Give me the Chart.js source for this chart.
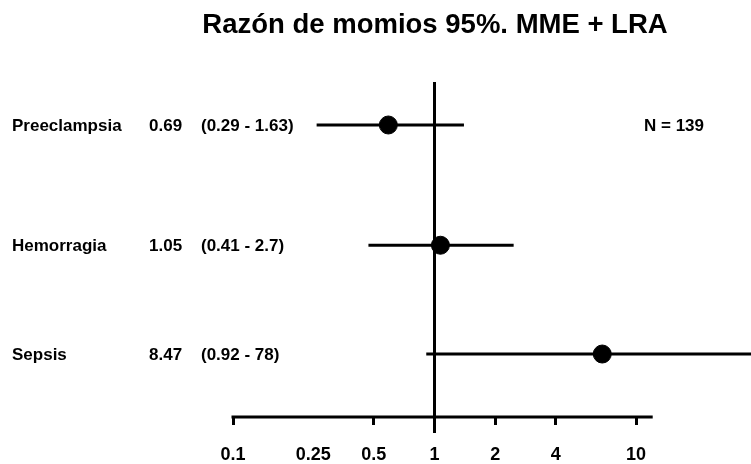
<!DOCTYPE html>
<html>
<head>
<meta charset="utf-8">
<script src="https://cdn.jsdelivr.net/npm/chart.js@4/dist/chart.umd.min.js"></script>
<style>
  html, body { margin: 0; padding: 0; background: #fff; }
  #wrap { width: 751px; height: 464px; position: relative; }
</style>
</head>
<body>
<div id="wrap"><canvas id="forest"></canvas></div>
<script>
'use strict';

// rows, top to bottom
const rowNames = ['Preeclampsia', 'Hemorragia', 'Sepsis'];
const orLabels = ['0.69', '1.05', '8.47'];
const ciLabels = ['(0.29 - 1.63)', '(0.41 - 2.7)', '(0.92 - 78)'];
const rowPos = [1, 2.05, 3];

// marks as they sit on the axis in the picture
const pointEst = [0.59, 1.07, 6.8];
const ciLow = [0.26, 0.47, 0.91];
const ciHigh = [1.40, 2.47, 78];

const tickVals = [0.1, 0.25, 0.5, 1, 2, 4, 10];
const tickLabels = ['0.1', '0.25', '0.5', '1', '2', '4', '10'];
const axisEnd = 12.1;

const FONT = '"Liberation Sans", Arial, Helvetica, sans-serif';

// text columns, title, the null line and the short axis line
const forestDecor = {
  id: 'forestDecor',
  afterDatasetsDraw(chart) {
    const { ctx, chartArea, scales: { x, y } } = chart;
    ctx.save();
    ctx.strokeStyle = '#000';
    ctx.lineWidth = 3;
    ctx.lineCap = 'butt';

    // reference line at OR = 1
    const x1 = Math.round(x.getPixelForValue(1)) - 0.5;
    ctx.beginPath();
    ctx.moveTo(x1, chartArea.top);
    ctx.lineTo(x1, chartArea.bottom + 16);
    ctx.stroke();

    // axis line, 0.1 .. ~12
    ctx.beginPath();
    ctx.moveTo(x.getPixelForValue(0.1) - 1.5, chartArea.bottom);
    ctx.lineTo(x.getPixelForValue(axisEnd), chartArea.bottom);
    ctx.stroke();

    ctx.fillStyle = '#000';
    ctx.textBaseline = 'middle';
    ctx.textAlign = 'left';
    ctx.font = 'bold 17px ' + FONT;
    rowNames.forEach((name, i) => {
      const py = y.getPixelForValue(rowPos[i]) + 1;
      ctx.fillText(name, 12, py);
      ctx.fillText(orLabels[i], 149, py);
      ctx.fillText(ciLabels[i], 201, py);
    });
    ctx.fillText('N = 139', 644, y.getPixelForValue(rowPos[0]) + 1);

    ctx.textAlign = 'center';
    ctx.textBaseline = 'alphabetic';
    ctx.font = 'bold 27.5px ' + FONT;
    ctx.fillText('Razón de momios 95%. MME + LRA', 435, 33);
    ctx.restore();
  }
};

const pointData = pointEst.map((v, i) => ({ x: v, y: rowPos[i] }));
const barSets = rowNames.map((name, i) => ({
  type: 'line',
  label: name + ' IC',
  data: [{ x: ciLow[i], y: rowPos[i] }, { x: ciHigh[i], y: rowPos[i] }],
  borderColor: '#000',
  borderWidth: 3,
  pointRadius: 0,
  fill: false,
  order: 2
}));

new Chart(document.getElementById('forest'), {
  type: 'scatter',
  data: {
    datasets: [
      {
        label: 'OR',
        data: pointData,
        backgroundColor: '#000',
        borderColor: '#000',
        pointRadius: 9,
        pointHoverRadius: 9,
        order: 0
      },
      ...barSets
    ]
  },
  options: {
    responsive: true,
    maintainAspectRatio: false,
    animation: false,
    devicePixelRatio: 1,
    layout: { autoPadding: false, padding: { left: 233, right: 0, top: 82, bottom: 0 } },
    plugins: {
      legend: { display: false },
      title: { display: false },
      tooltip: { enabled: false }
    },
    scales: {
      x: {
        type: 'logarithmic',
        min: 0.1,
        max: 37.2,
        afterBuildTicks: (scale) => { scale.ticks = tickVals.map(v => ({ value: v })); },
        afterFit: (scale) => {
          scale.height = 47;
          scale.paddingLeft = 0;
          scale.paddingRight = 0;
        },
        border: { display: false },
        grid: {
          drawOnChartArea: false,
          drawTicks: true,
          tickLength: 8,
          lineWidth: 3,
          color: (c) => (c.tick && (c.tick.value === 0.25 || c.tick.value === 1)) ? 'rgba(0,0,0,0)' : '#000'
        },
        ticks: {
          autoSkip: false,
          maxRotation: 0,
          padding: 19,
          color: '#000',
          font: { family: FONT, size: 18, weight: 'bold' },
          callback: (v, i) => tickLabels[i]
        }
      },
      y: {
        type: 'linear',
        reverse: true,
        min: 0.6245,
        max: 3.55,
        display: false
      }
    }
  },
  plugins: [forestDecor]
});
</script>
</body>
</html>
